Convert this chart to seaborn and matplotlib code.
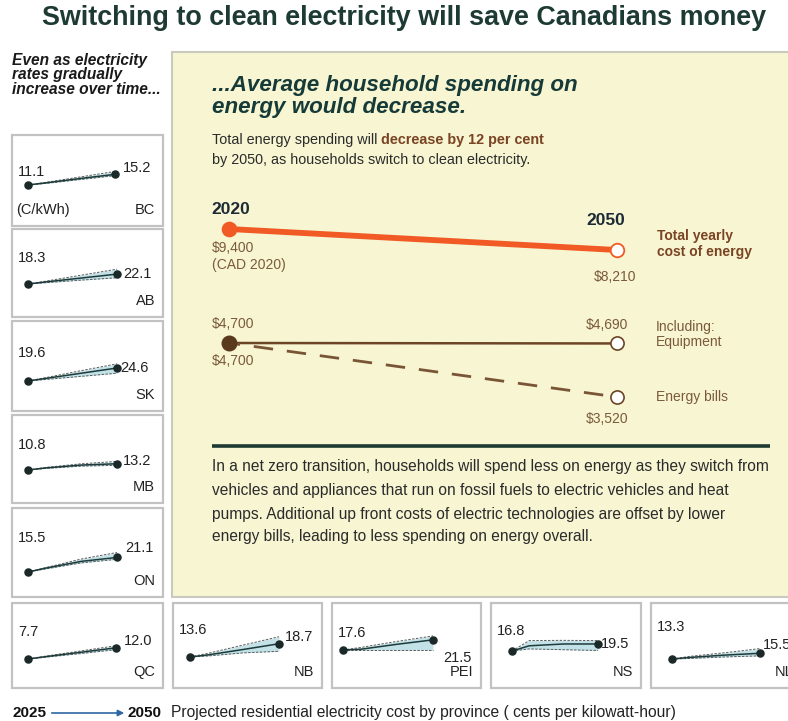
import matplotlib
matplotlib.use("Agg")
import matplotlib.pyplot as plt
from matplotlib import font_manager
from matplotlib.patches import Rectangle, FancyArrowPatch
import seaborn as sns


W, H = 788, 721

# main panel: household energy spending (CAD 2020)
MAIN_YEARS = [2020, 2050]
TOTAL_COST = [9400, 8210]
EQUIPMENT_COST = [4700, 4690]
BILLS_COST = [4700, 3520]

# provincial residential electricity rates, cents per kWh
SPARK_YEARS = [2025, 2030, 2040, 2050]
PROVINCES = ["BC", "AB", "SK", "MB", "ON", "QC", "NB", "PEI", "NS", "NL"]
RATE_MID = [
    [11.1, 11.9, 13.6, 15.2],
    [18.3, 19.1, 20.6, 22.1],
    [19.6, 20.6, 22.6, 24.6],
    [10.8, 11.6, 12.7, 13.2],
    [15.5, 17.0, 19.6, 21.1],
    [7.7, 8.6, 10.3, 12.0],
    [13.6, 14.4, 16.5, 18.7],
    [17.6, 17.9, 19.8, 21.5],
    [16.8, 18.8, 19.5, 19.5],
    [13.3, 13.9, 14.8, 15.5],
]
RATE_HIGH = [
    [11.1, 12.1, 14.2, 16.3],
    [18.3, 19.4, 21.7, 24.0],
    [19.6, 20.9, 23.6, 26.2],
    [10.8, 11.8, 13.2, 14.1],
    [15.5, 17.2, 20.5, 23.0],
    [7.7, 8.8, 10.8, 12.8],
    [13.6, 15.0, 18.2, 21.4],
    [17.6, 18.6, 20.9, 23.0],
    [16.8, 20.8, 20.9, 20.8],
    [13.3, 14.3, 15.7, 17.3],
]
RATE_LOW = [
    [11.1, 11.7, 13.2, 14.7],
    [18.3, 18.8, 19.8, 20.7],
    [19.6, 20.2, 21.4, 22.6],
    [10.8, 11.4, 12.3, 12.6],
    [15.5, 16.7, 19.0, 20.4],
    [7.7, 8.4, 9.8, 11.3],
    [13.6, 14.0, 15.2, 15.8],
    [17.6, 17.6, 17.6, 17.6],
    [16.8, 17.6, 17.3, 17.0],
    [13.3, 13.5, 14.1, 14.5],
]

# layout (pixels): box, start-dot x, end-dot x, start-dot y, start label y, end label offset
BOXES = {
    "BC": (12, 135, 163, 226), "AB": (12, 229, 163, 317), "SK": (12, 321, 163, 411),
    "MB": (12, 415, 163, 503), "ON": (12, 508, 163, 597), "QC": (12, 603, 163, 688),
    "NB": (173, 603, 322, 688), "PEI": (332, 603, 481, 688), "NS": (491, 603, 641, 688),
    "NL": (651, 603, 802, 688),
}
SPARK_LAYOUT = {
    "BC": (16, 103, 50, 37, (8, 6)), "AB": (16, 105, 55, 29, (6, 0)),
    "SK": (16, 105, 60, 32, (3, 0)), "MB": (16, 105, 55, 30, (6, 3)),
    "ON": (16, 105, 64, 30, (8, 9)), "QC": (16, 104, 56, 29, (8, 7)),
    "NB": (17, 106, 54, 27, (6, 7)), "PEI": (11, 101, 47, 30, (10, -18)),
    "NS": (21, 107, 48, 28, (3, 0)), "NL": (21, 109, 56, 24, (3, 8)),
}
PX_PER_CENT = 2.6

TITLE_C = "#1d3a33"
HEAD_C = "#163a38"
TEXT_C = "#2b2b2b"
BROWN_TXT = "#7b5a3c"
BROWN_BOLD = "#7a4424"
ORANGE = "#f15a24"
BROWN_LINE = "#6b4526"
BROWN_DOT = "#5a391c"
PANEL_C = "#f7f5d2"
BAND_C = "#c2e2e8"

sns.set_theme(style="white")
names = {f.name for f in font_manager.fontManager.ttflist}
BASE = ["Liberation Sans", "DejaVu Sans"]
NARROW = (["Liberation Sans Narrow"] + BASE) if "Liberation Sans Narrow" in names else BASE
plt.rcParams["font.family"] = BASE

fig = plt.figure(figsize=(W / 100, H / 100), dpi=100)
fig.patch.set_facecolor("white")
renderer = fig.canvas.get_renderer()

bg = fig.add_axes([0, 0, 1, 1])
bg.set_xlim(0, W)
bg.set_ylim(H, 0)
bg.axis("off")


def px_axes(x0, y0, x1, y1):
    ax = fig.add_axes([x0 / W, 1 - y1 / H, (x1 - x0) / W, (y1 - y0) / H])
    ax.axis("off")
    ax.patch.set_visible(False)
    return ax


def fit_width(txt, width_px):
    w = txt.get_window_extent(renderer).width
    txt.set_fontsize(txt.get_fontsize() * width_px / w)
    return txt.get_fontsize()


# title and left intro
title = bg.text(404, 18, "Switching to clean electricity will save Canadians money",
                ha="center", va="center", fontsize=18, fontweight="bold",
                color=TITLE_C, family=NARROW)
fit_width(title, 724)

intro = ["Even as electricity", "rates gradually", "increase over time..."]
t = bg.text(12, 90, intro[2], ha="left", va="center", fontsize=10,
            fontweight="bold", style="italic", color="#1a1a1a", family=NARROW)
fs = fit_width(t, 150)
for line, y in zip(intro[:2], [60, 75]):
    bg.text(12, y, line, ha="left", va="center", fontsize=fs,
            fontweight="bold", style="italic", color="#1a1a1a", family=NARROW)

# yellow panel
bg.add_patch(Rectangle((172, 52), 630, 545, facecolor=PANEL_C,
                       edgecolor="#c9c9bd", lw=1.5))

h1 = bg.text(212, 85, "...Average household spending on", ha="left", va="center",
             fontsize=16, fontweight="bold", style="italic", color=HEAD_C)
fs = fit_width(h1, 366)
bg.text(212, 108, "energy would decrease.", ha="left", va="center",
        fontsize=fs, fontweight="bold", style="italic", color=HEAD_C)

s2 = bg.text(212, 160, "by 2050, as households switch to clean electricity.",
             ha="left", va="center", fontsize=10, color=TEXT_C)
fs = fit_width(s2, 318)
s1 = bg.text(212, 140, "Total energy spending will ", ha="left", va="center",
             fontsize=fs, color=TEXT_C)
ext = s1.get_window_extent(renderer)
bg.text(212 + ext.width, 140, "decrease by 12 per cent", ha="left", va="center",
        fontsize=fs, fontweight="bold", color=BROWN_BOLD)

# total yearly cost line
ax_tot = px_axes(229, 229, 617, 250)
ax_tot.set_xlim(MAIN_YEARS[0], MAIN_YEARS[1])
ax_tot.set_ylim(min(TOTAL_COST), max(TOTAL_COST))
sns.lineplot(x=MAIN_YEARS, y=TOTAL_COST, ax=ax_tot, color=ORANGE, linewidth=4.2,
             clip_on=False)
ax_tot.scatter(MAIN_YEARS[:1], TOTAL_COST[:1], s=105, color=ORANGE, zorder=5, clip_on=False)
ax_tot.scatter(MAIN_YEARS[1:], TOTAL_COST[1:], s=95, facecolor="white",
               edgecolor=ORANGE, linewidth=1.3, zorder=5, clip_on=False)


def note(ax, text, xy, off, **kw):
    kw.setdefault("fontsize", 10)
    kw.setdefault("color", BROWN_TXT)
    ax.annotate(text, xy=xy, xytext=off, textcoords="offset pixels",
                ha=kw.pop("ha", "left"), va="center", **kw)


note(ax_tot, str(MAIN_YEARS[0]), (MAIN_YEARS[0], TOTAL_COST[0]), (-18, 20),
     fontsize=12.5, fontweight="bold", color="#1c2a35")
note(ax_tot, str(MAIN_YEARS[1]), (MAIN_YEARS[1], TOTAL_COST[1]), (-31, 30),
     fontsize=12.5, fontweight="bold", color="#1c2a35")
note(ax_tot, f"${TOTAL_COST[0]:,}", (MAIN_YEARS[0], TOTAL_COST[0]), (-17, -19))
note(ax_tot, "(CAD 2020)", (MAIN_YEARS[0], TOTAL_COST[0]), (-17, -36))
note(ax_tot, f"${TOTAL_COST[1]:,}", (MAIN_YEARS[1], TOTAL_COST[1]), (-23, -27))
note(ax_tot, "Total yearly\ncost of energy", (MAIN_YEARS[1], TOTAL_COST[1]), (40, 6),
     fontweight="bold", color=BROWN_BOLD, linespacing=1.1)

# equipment and energy bills
ax_sub = px_axes(229, 343, 617, 397)
ax_sub.set_xlim(MAIN_YEARS[0], MAIN_YEARS[1])
ax_sub.set_ylim(min(BILLS_COST), max(BILLS_COST))
sns.lineplot(x=MAIN_YEARS, y=EQUIPMENT_COST, ax=ax_sub, color=BROWN_LINE,
             linewidth=1.8, clip_on=False)
sns.lineplot(x=MAIN_YEARS, y=BILLS_COST, ax=ax_sub, color="#7a5535", linewidth=2.0,
             linestyle=(3, (7, 5)), clip_on=False)
ax_sub.scatter(MAIN_YEARS[:1], EQUIPMENT_COST[:1], s=110, color=BROWN_DOT, zorder=5,
               clip_on=False)
ax_sub.scatter([MAIN_YEARS[1]] * 2, [EQUIPMENT_COST[1], BILLS_COST[1]], s=90,
               facecolor="white", edgecolor=BROWN_LINE, linewidth=1.2, zorder=5,
               clip_on=False)
note(ax_sub, f"${EQUIPMENT_COST[0]:,}", (MAIN_YEARS[0], EQUIPMENT_COST[0]), (-17, 19))
note(ax_sub, f"${BILLS_COST[0]:,}", (MAIN_YEARS[0], BILLS_COST[0]), (-17, -18))
note(ax_sub, f"${EQUIPMENT_COST[1]:,}", (MAIN_YEARS[1], EQUIPMENT_COST[1]), (-31, 18))
note(ax_sub, "Including:\nEquipment", (MAIN_YEARS[1], EQUIPMENT_COST[1]), (39, 9),
     linespacing=1.15)
note(ax_sub, "Energy bills", (MAIN_YEARS[1], BILLS_COST[1]), (39, 0))
note(ax_sub, f"${BILLS_COST[1]:,}", (MAIN_YEARS[1], BILLS_COST[1]), (-31, -22))

# divider and explanation
bg.plot([212, 770], [446, 446], color=TITLE_C, lw=2.6, solid_capstyle="butt")
body = [
    "In a net zero transition, households will spend less on energy as they switch from",
    "vehicles and appliances that run on fossil fuels to electric vehicles and heat",
    "pumps. Additional up front costs of electric technologies are offset by lower",
    "energy bills, leading to less spending on energy overall.",
]
b0 = bg.text(212, 467, body[0], ha="left", va="center", fontsize=10, color=TEXT_C)
fs = fit_width(b0, 558)
for line, y in zip(body[1:], [491, 514, 537]):
    bg.text(212, y, line, ha="left", va="center", fontsize=fs, color=TEXT_C)

# provincial sparklines
for i, prov in enumerate(PROVINCES):
    x0, y0, x1, y1 = BOXES[prov]
    sdx, edx, off, lab_off, end_off = SPARK_LAYOUT[prov]
    bg.add_patch(Rectangle((x0, y0), x1 - x0, y1 - y0, facecolor="white",
                           edgecolor="#c2c2c2", lw=1.6))
    mid, hi, lo = RATE_MID[i], RATE_HIGH[i], RATE_LOW[i]
    v0 = mid[0]
    sy = y0 + off
    ax = px_axes(x0 + sdx, sy - 10 * PX_PER_CENT, x0 + edx, sy + 4 * PX_PER_CENT)
    ax.set_xlim(SPARK_YEARS[0], SPARK_YEARS[-1])
    ax.set_ylim(v0 - 4, v0 + 10)
    ax.fill_between(SPARK_YEARS, lo, hi, color=BAND_C, lw=0, clip_on=False)
    for edge in (hi, lo):
        sns.lineplot(x=SPARK_YEARS, y=edge, ax=ax, color="#5a5a5a", linewidth=0.7,
                     linestyle=(0, (2.5, 1.5)), clip_on=False)
    sns.lineplot(x=SPARK_YEARS, y=mid, ax=ax, color="#1e3a3a", linewidth=1.1,
                 clip_on=False)
    ax.scatter([SPARK_YEARS[0], SPARK_YEARS[-1]], [mid[0], mid[-1]], s=26,
               color="#1b2828", zorder=5, clip_on=False)
    bg.text(x0 + 6, y0 + lab_off, f"{v0:.1f}", ha="left", va="center",
            fontsize=10.5, color="#222222")
    ax.annotate(f"{mid[-1]:.1f}", xy=(SPARK_YEARS[-1], mid[-1]), xytext=end_off,
                textcoords="offset pixels", ha="left", va="center",
                fontsize=10.5, color="#222222", annotation_clip=False)
    bg.text(x1 - 8, y1 - 16, prov, ha="right", va="center", fontsize=10.5,
            color="#222222")
    if prov == "BC":
        bg.text(x0 + 4, y1 - 16, "(C/kWh)", ha="left", va="center", fontsize=10.5,
                color="#222222")

# bottom caption
bg.text(13, 713, str(SPARK_YEARS[0]), ha="left", va="center", fontsize=11,
        fontweight="bold", color="#111111")
bg.add_patch(FancyArrowPatch((49, 713), (127, 713), arrowstyle="-|>",
                             mutation_scale=9, color="#2e67a3", lw=1.2))
bg.text(128, 713, str(SPARK_YEARS[-1]), ha="left", va="center", fontsize=11,
        fontweight="bold", color="#111111")
cap = bg.text(171, 712, "Projected residential electricity cost by province ( cents per kilowatt-hour)",
              ha="left", va="center", fontsize=10, color="#222222")
fit_width(cap, 506)

fig.savefig("out.png", dpi=100, facecolor="white")
